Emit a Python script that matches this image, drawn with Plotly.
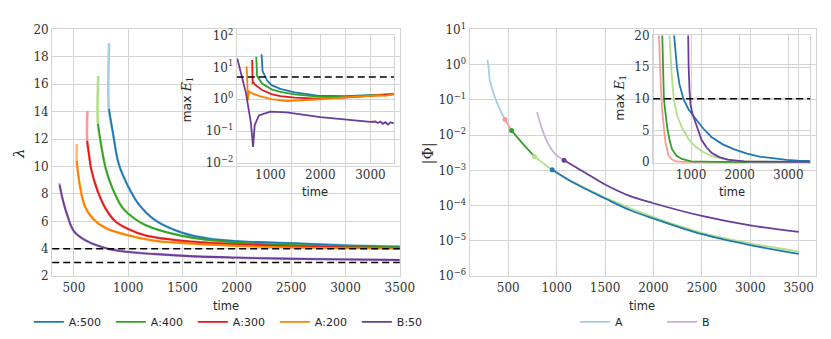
#!/usr/bin/env python3
"""Continuation runs: lambda, |Phi| and max E_1 against time, with insets."""
from __future__ import annotations

from typing import Dict, List, Tuple

import plotly.graph_objects as go

W, H = 831, 339

# ---- left panel: lambda per run (dark = kept run, light = transient start)
LAM_A500_T = [822, 860, 902, 929, 1000, 1095, 1245, 1500, 1755, 2000, 2500, 3000, 3500]
LAM_A500 = [14.2, 12.4, 10.5, 9.8, 8.53, 7.26, 6.1, 5.16, 4.72, 4.55, 4.4, 4.25, 4.16]
LAM_A500_START = (824, 19.0)

LAM_A400_T = [721, 750, 794, 854, 944, 1000, 1155, 1500, 2000, 2500, 3000, 3500]
LAM_A400 = [13.1, 11.6, 9.81, 8.42, 7.02, 6.56, 5.74, 4.93, 4.45, 4.28, 4.17, 4.11]
LAM_A400_START = (724, 16.6)

LAM_A300_T = [622, 640, 659, 719, 794, 884, 1000, 1155, 1500, 2000, 2500, 3000, 3500]
LAM_A300 = [11.87, 10.8, 9.81, 8.19, 6.9, 5.98, 5.44, 4.98, 4.58, 4.33, 4.18, 4.1, 4.07]
LAM_A300_START = (624, 14.07)

LAM_A200_T = [526, 540, 554, 599, 674, 794, 1000, 1245, 1500, 2000, 2500, 3000, 3500]
LAM_A200 = [10.4, 9.4, 8.65, 7.14, 6.2, 5.5, 4.98, 4.58, 4.42, 4.22, 4.1, 4.05, 4.03]
LAM_A200_START = (527, 11.65)

LAM_B50_T = [368, 400, 434, 500, 614, 824, 1000, 1500, 2000, 2500, 3000, 3500]
LAM_B50 = [8.68, 7.5, 6.56, 5.28, 4.58, 3.98, 3.77, 3.49, 3.35, 3.27, 3.22, 3.18]
LAM_B50_START = (367, 8.8)

LAM_THRESHOLDS = [4, 3]

# ---- left inset: max E_1 (log)
E_A500_T = [825, 845, 934, 1025, 1200, 1488, 1942, 2480, 3000, 3468]
E_A500 = [25.7, 7.6, 3.9, 2.75, 2.1, 1.65, 1.3, 1.25, 1.35, 1.45]
E_A400_T = [719, 735, 836, 1025, 1200, 1488, 1942, 2480, 3000, 3468]
E_A400 = [21.5, 5.4, 3.1, 2.04, 1.7, 1.42, 1.2, 1.2, 1.32, 1.45]
E_A300_T = [637, 647, 665, 700, 836, 1025, 1200, 1488, 1942, 2480, 3000, 3468]
E_A300 = [17, 3.2, 3.3, 2.8, 1.95, 1.45, 1.25, 1.12, 1.05, 1.12, 1.28, 1.42]
E_A200_T = [527, 553, 577, 650, 800, 1025, 1325, 1650, 2000, 2480, 3000, 3200, 3300, 3400, 3468]
E_A200 = [10.7, 0.93, 1.74, 1.5, 1.23, 1.0, 0.88, 0.92, 1.0, 1.15, 1.28, 1.33, 1.28, 1.4, 1.45]
E_B50_T = [340, 415, 513, 610, 655, 688, 772, 1000, 1325, 2000, 2480, 3000,
           3100, 3150, 3200, 3250, 3300, 3350, 3400, 3468]
E_B50 = [19, 6.9, 1.55, 0.19, 0.032, 0.155, 0.31, 0.41, 0.39, 0.275, 0.23, 0.195,
         0.2, 0.18, 0.2, 0.17, 0.19, 0.16, 0.19, 0.175]
E_THRESHOLD_LEFT = 5

# ---- right panel: |Phi| per stage of the continuation
PHI_A1_T = [286, 297, 310, 337, 371, 412, 466]
PHI_A1 = [1.36, 0.81, 0.355, 0.19, 0.102, 0.055, 0.028]
PHI_A2_T = [466, 507, 534]
PHI_A2 = [0.028, 0.0178, 0.0135]
PHI_A3_T = [534, 608, 693, 771]
PHI_A3 = [0.0135, 0.0078, 0.0042, 0.0025]
PHI_A4_T = [771, 863, 954, 1185, 1500, 2000, 2500, 3000, 3500]
PHI_A4 = [0.0025, 0.00158, 0.00105, 4.5e-4, 1.7e-4, 4.7e-5, 1.7e-5, 8.5e-6, 5.0e-6]
PHI_A5_T = [954, 1185, 1500, 1761, 2000, 2500, 3000, 3500]
PHI_A5 = [1.05e-3, 4.3e-4, 1.6e-4, 7.4e-5, 4.3e-5, 1.55e-5, 7.6e-6, 4.3e-6]
PHI_B1_T = [798, 846, 914, 981, 1076]
PHI_B1 = [0.045, 0.0158, 0.0056, 0.003, 0.00195]
PHI_B2_T = [1076, 1286, 1500, 1761, 2000, 2500, 3000, 3500]
PHI_B2 = [1.95e-3, 8.9e-4, 4.0e-4, 1.86e-4, 1.17e-4, 5.1e-5, 2.75e-5, 1.8e-5]

# ---- right inset: max E_1 (linear)
ME_A2_T = [330, 340, 375, 408, 475, 542, 610, 677, 800, 1200, 2000, 3450]
ME_A2 = [25, 20, 12.5, 7.96, 3.0, 1.0, 0.4, 0.15, 0.05, 0.03, 0.02, 0.02]
ME_A3_T = [398, 408, 441, 475, 509, 560, 610, 700, 812, 1000, 1500, 2500, 3450]
ME_A3 = [26, 20, 9.94, 7.3, 5.46, 3.4, 2.0, 1.0, 0.5, 0.12, 0.03, 0.02, 0.02]
ME_A4_T = [545, 556, 600, 643, 720, 812, 950, 1081, 1250, 1418, 1650, 1889, 2200, 2800, 3450]
ME_A4 = [25, 20, 14, 9.94, 7.2, 5.46, 3.6, 2.5, 1.6, 1.0, 0.5, 0.25, 0.1, 0.05, 0.03]
ME_A5_T = [630, 651, 710, 760, 845, 950, 1081, 1250, 1418, 1650, 1889, 2150, 2428,
           2700, 2966, 3200, 3438]
ME_A5 = [28, 20, 14.9, 12.3, 9.94, 8.3, 6.96, 5.3, 3.97, 2.8, 2.0, 1.35, 0.84,
         0.55, 0.34, 0.25, 0.2]
ME_B2_T = [925, 933, 950, 970, 990, 1030, 1081, 1150, 1216, 1320, 1418, 1580, 1754,
           2090, 2600, 3450]
ME_B2 = [28, 20, 15, 11, 9, 7.6, 6.46, 4.8, 3.48, 2.3, 1.49, 0.8, 0.4, 0.1, 0.05, 0.05]
E_THRESHOLD_RIGHT = 10

LOG_TICKS_PHI = [1e-6, 1e-5, 1e-4, 1e-3, 1e-2, 1e-1, 1, 10]
LOG_TEXT_PHI = ["10<sup>−6</sup>", "10<sup>−5</sup>", "10<sup>−4</sup>", "10<sup>−3</sup>",
                "10<sup>−2</sup>", "10<sup>−1</sup>", "10<sup>0</sup>", "10<sup>1</sup>"]
LOG_TICKS_E = [1e-2, 1e-1, 1, 10, 100]
LOG_TEXT_E = ["10<sup>−2</sup>", "10<sup>−1</sup>", "10<sup>0</sup>", "10<sup>1</sup>",
              "10<sup>2</sup>"]

C: Dict[str, str] = {
    "blue": "#1f78b4", "lblue": "#a6cee3",
    "green": "#33a02c", "lgreen": "#b2df8a",
    "red": "#e31a1c", "lred": "#fb9a99",
    "orange": "#ff7f00", "lorange": "#fdbf6f",
    "purple": "#6a3d9a", "lpurple": "#cab2d6",
}

SERIF = "DejaVu Serif"
SANS = "DejaVu Sans"
GRID = "#d4d4d4"
TXT = "#262626"


def _px(x: float) -> float:
    return x / W


def _py(y: float) -> float:
    return 1 - y / H


def _line(x, y, color, width, axes, name=None, legend=None, shape="linear") -> go.Scatter:
    return go.Scatter(
        x=x, y=y, mode="lines", name=name,
        line=dict(color=color, width=width, shape=shape),
        xaxis=axes[0], yaxis=axes[1],
        showlegend=name is not None, legend=legend or "legend",
    )


def _axis(domain, rng, **kw) -> dict:
    d = dict(
        domain=domain, range=rng, showgrid=True, gridcolor=GRID, gridwidth=1.2,
        showline=True, linecolor=GRID, linewidth=1.2, mirror=True, zeroline=False,
        ticks="", tickfont=dict(family=SERIF, size=12, color="#333333"),
    )
    d.update(kw)
    return d


def main() -> None:
    fig = go.Figure()
    main_l = ("x", "y")
    main_r = ("x2", "y2")
    ins_l = ("x3", "y3")
    ins_r = ("x4", "y4")

    runs: List[Tuple[str, list, list, Tuple[float, float], str]] = [
        ("A:500", LAM_A500_T, LAM_A500, LAM_A500_START, "blue"),
        ("A:400", LAM_A400_T, LAM_A400, LAM_A400_START, "green"),
        ("A:300", LAM_A300_T, LAM_A300, LAM_A300_START, "red"),
        ("A:200", LAM_A200_T, LAM_A200, LAM_A200_START, "orange"),
        ("B:50", LAM_B50_T, LAM_B50, LAM_B50_START, "purple"),
    ]
    for _, t, v, start, col in runs:
        fig.add_trace(_line([start[0]] + t, [start[1]] + v, C["l" + col], 2.6, main_l,
                            shape="spline"))
    for name, t, v, _, col in runs:
        fig.add_trace(_line(t, v, C[col], 1.8, main_l, name=name, shape="spline"))

    for t, v, col in [(E_A500_T, E_A500, "blue"), (E_A400_T, E_A400, "green"),
                      (E_A300_T, E_A300, "red"), (E_A200_T, E_A200, "orange"),
                      (E_B50_T, E_B50, "purple")]:
        fig.add_trace(_line(t, v, C[col], 1.8, ins_l))

    # right panel, stage by stage
    stages = [(PHI_A1_T, PHI_A1, "lblue", "A"), (PHI_A2_T, PHI_A2, "lred", None),
              (PHI_A4_T, PHI_A4, "lgreen", None), (PHI_A3_T, PHI_A3, "green", None),
              (PHI_A5_T, PHI_A5, "blue", None), (PHI_B1_T, PHI_B1, "lpurple", "B"),
              (PHI_B2_T, PHI_B2, "purple", None)]
    for t, v, col, name in stages:
        fig.add_trace(_line(t, v, C[col], 1.8, main_r, name=name, legend="legend2",
                            shape="spline"))
    for t, v, col, name in stages:
        if name is None:
            fig.add_trace(go.Scatter(
                x=t[:1], y=v[:1], mode="markers", showlegend=False,
                marker=dict(color=C[col], size=5, symbol="circle"),
                xaxis="x2", yaxis="y2"))

    for t, v, col in [(ME_A2_T, ME_A2, "lred"), (ME_A3_T, ME_A3, "green"),
                      (ME_A4_T, ME_A4, "lgreen"), (ME_A5_T, ME_A5, "blue"),
                      (ME_B2_T, ME_B2, "purple")]:
        fig.add_trace(_line(t, v, C[col], 1.8, ins_r))

    dash = dict(color="black", width=1.5, dash="7px,4px")
    shapes = [dict(type="line", xref="x domain", x0=0, x1=1, yref="y", y0=v, y1=v,
                   line=dash) for v in LAM_THRESHOLDS]
    shapes.append(dict(type="line", xref="x3 domain", x0=0, x1=1, yref="y3",
                       y0=E_THRESHOLD_LEFT, y1=E_THRESHOLD_LEFT, line=dash))
    shapes.append(dict(type="line", xref="x4 domain", x0=0, x1=1, yref="y4",
                       y0=E_THRESHOLD_RIGHT, y1=E_THRESHOLD_RIGHT, line=dash))

    yd_main = [_py(272), _py(13)]
    yd_ins = [_py(153.3), _py(19.3)]
    time_ticks = [500, 1000, 1500, 2000, 2500, 3000, 3500]
    ins_ticks = [1000, 2000, 3000]

    legend_font = dict(family=SANS, size=11, color=TXT)
    fig.update_layout(
        width=W, height=H, margin=dict(l=0, r=0, t=0, b=0),
        paper_bgcolor="white", plot_bgcolor="rgba(0,0,0,0)",
        font=dict(family=SANS, color=TXT),
        xaxis=_axis([_px(45), _px(399)], [300, 3500], anchor="y", tickvals=time_ticks),
        yaxis=_axis(yd_main, [2, 20], anchor="x", dtick=2),
        xaxis2=_axis([_px(470), _px(823)], [100, 3680], anchor="y2", tickvals=time_ticks),
        yaxis2=_axis(yd_main, [-6, 1], anchor="x2", type="log",
                     tickvals=LOG_TICKS_PHI, ticktext=LOG_TEXT_PHI),
        xaxis3=_axis([_px(233), _px(393)], [330, 3470], anchor="y3", tickvals=ins_ticks),
        yaxis3=_axis(yd_ins, [-2, 2], anchor="x3", type="log",
                     tickvals=LOG_TICKS_E, ticktext=LOG_TEXT_E),
        xaxis4=_axis([_px(657), _px(817)], [220, 3450], anchor="y4", tickvals=ins_ticks),
        yaxis4=_axis(yd_ins, [-0.15, 20], anchor="x4", tickvals=[0, 5, 10, 15, 20]),
        shapes=shapes,
        legend=dict(orientation="h", x=_px(230), xanchor="center", y=_py(320),
                    yanchor="middle", font=legend_font, bgcolor="rgba(0,0,0,0)",
                    entrywidth=37, itemwidth=30),
        legend2=dict(orientation="h", x=_px(666), xanchor="center", y=_py(320),
                     yanchor="middle", font=legend_font, bgcolor="rgba(0,0,0,0)",
                     entrywidth=42, itemwidth=30),
        showlegend=True,
    )

    sans = dict(family=SANS, size=11.5, color=TXT)
    sans_e = dict(family=SANS, size=12.5, color=TXT)
    serif = dict(family=SERIF, size=15, color=TXT)
    max_e = ('max <span style="font-family:DejaVu Serif"><i>E</i>'
             '<sub>1</sub></span>')
    notes = [
        (222, 303, "time", sans, 0), (646, 303, "time", sans, 0),
        (313, 184, "time", sans, 0), (737, 184, "time", sans, 0),
        (11, 143, "<i>λ</i>", serif, -90), (428, 143, "|Φ|", serif, -90),
        (183, 87, max_e, sans_e, -90), (624, 85, max_e, sans_e, -90),
    ]
    for x, y, text, font, ang in notes:
        fig.add_annotation(x=_px(x), y=_py(y), xref="paper", yref="paper", text=text,
                           showarrow=False, font=font, textangle=ang,
                           xanchor="center", yanchor="middle")

    fig.write_html("out.html")


if __name__ == "__main__":
    main()
